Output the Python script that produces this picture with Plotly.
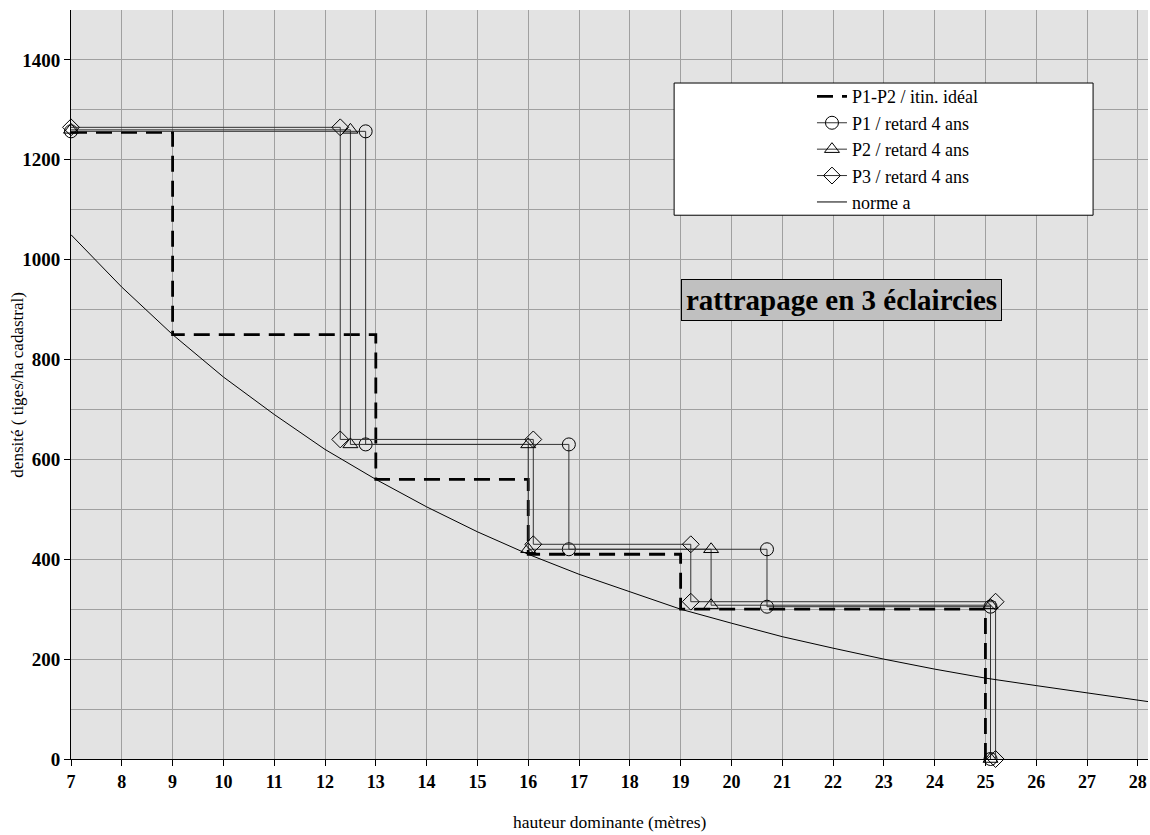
import plotly.graph_objects as go

# ---- data ----
h_ideal = [7, 9, 9, 13, 13, 16, 16, 19, 19, 25, 25]
n_ideal = [1255, 1255, 850, 850, 560, 560, 410, 410, 300, 300, 0]

h_p1 = [7, 12.8, 12.8, 16.8, 16.8, 20.7, 20.7, 25.1, 25.1]
n_p1 = [1257, 1257, 630, 630, 420, 420, 305, 305, 0]

h_p2 = [7, 12.5, 12.5, 16.0, 16.0, 19.6, 19.6, 25.1, 25.1]
n_p2 = [1260, 1260, 630, 630, 420, 420, 308, 308, 0]

h_p3 = [7, 12.3, 12.3, 16.1, 16.1, 19.2, 19.2, 25.2, 25.2]
n_p3 = [1265, 1265, 640, 640, 430, 430, 315, 315, 0]

h_norme = [7, 8, 9, 10, 11, 12, 13, 14, 15, 16, 17, 18, 19, 20, 21, 22, 23, 24, 25, 26, 27, 28, 28.2]
n_norme = [1050, 945, 850, 765, 690, 620, 560, 505, 455, 410, 370, 335, 300, 272, 245, 222, 200, 180, 162, 147, 133, 118, 115]

x_ticks = list(range(7, 29))
y_ticks = [0, 200, 400, 600, 800, 1000, 1200, 1400]

serif = "Liberation Serif"
step_col = "#333333"

fig = go.Figure()

fig.add_trace(go.Scatter(
    x=h_ideal, y=n_ideal, mode="lines", name="P1-P2 / itin. idéal",
    line=dict(color="black", width=2.8, dash="16px,9px"),
))
fig.add_trace(go.Scatter(
    x=h_p1, y=n_p1, mode="lines+markers", name="P1 / retard 4 ans",
    line=dict(color=step_col, width=1),
    marker=dict(symbol="circle-open", size=13, color="black", line=dict(width=1)),
    cliponaxis=False,
))
fig.add_trace(go.Scatter(
    x=h_p2, y=n_p2, mode="lines+markers", name="P2 / retard 4 ans",
    line=dict(color=step_col, width=1),
    marker=dict(symbol="triangle-up-open", size=13, color="black", line=dict(width=1)),
    cliponaxis=False,
))
fig.add_trace(go.Scatter(
    x=h_p3, y=n_p3, mode="lines+markers", name="P3 / retard 4 ans",
    line=dict(color=step_col, width=1),
    marker=dict(symbol="diamond-open", size=13, color="black", line=dict(width=1)),
    cliponaxis=False,
))
fig.add_trace(go.Scatter(
    x=h_norme, y=n_norme, mode="lines", name="norme a",
    line=dict(color="black", width=1),
))

grid_col = "#a0a0a0"

fig.update_layout(
    width=1150, height=835,
    margin=dict(l=71, r=2, t=10, b=76),
    paper_bgcolor="white",
    plot_bgcolor="#e3e3e3",
    font=dict(family=serif, color="black"),
    showlegend=True,
    legend=dict(
        x=0.688, y=0.909, xanchor="left", yanchor="top",
        bgcolor="rgba(0,0,0,0)", borderwidth=0,
        font=dict(family=serif, size=18, color="black"),
        tracegroupgap=0,
    ),
    xaxis=dict(
        range=[7, 28.2], tickvals=x_ticks,
        showgrid=True, gridcolor=grid_col, gridwidth=1,
        showline=True, linecolor="black", linewidth=1,
        ticks="outside", ticklen=6, tickcolor="black",
        tickfont=dict(family=serif, size=18, color="black", weight="bold"),
        zeroline=False,
    ),
    yaxis=dict(
        range=[0, 1500], tickvals=y_ticks,
        showgrid=True, gridcolor=grid_col, gridwidth=1,
        minor=dict(dtick=100, showgrid=True, gridcolor=grid_col, ticks=""),
        showline=True, linecolor="black", linewidth=1,
        ticks="outside", ticklen=6, tickcolor="black",
        tickfont=dict(family=serif, size=19, color="black", weight="bold"),
        zeroline=False,
    ),
    shapes=[dict(
        type="rect", xref="paper", yref="paper",
        x0=0.56, x1=0.949, y0=0.726, y1=0.9025,
        fillcolor="white", line=dict(color="black", width=1), layer="above",
    )],
    annotations=[
        dict(text="<b>rattrapage en 3 éclaircies</b>", xref="paper", yref="paper",
             x=0.715, y=0.613, xanchor="center", yanchor="middle", showarrow=False,
             font=dict(family=serif, size=29, color="black"),
             bgcolor="#c0c0c0", bordercolor="black", borderwidth=1, borderpad=4),
        dict(text="hauteur dominante (mètres)", xref="paper", yref="paper",
             x=0.5, y=-0.084, xanchor="center", yanchor="middle", showarrow=False,
             font=dict(family=serif, size=17.5, color="black")),
        dict(text="densité ( tiges/ha cadastral)", xref="paper", yref="paper",
             x=-0.05, y=0.5, xanchor="center", yanchor="middle", showarrow=False,
             textangle=-90, font=dict(family=serif, size=17, color="black")),
    ],
)

fig.write_html("out.html")
